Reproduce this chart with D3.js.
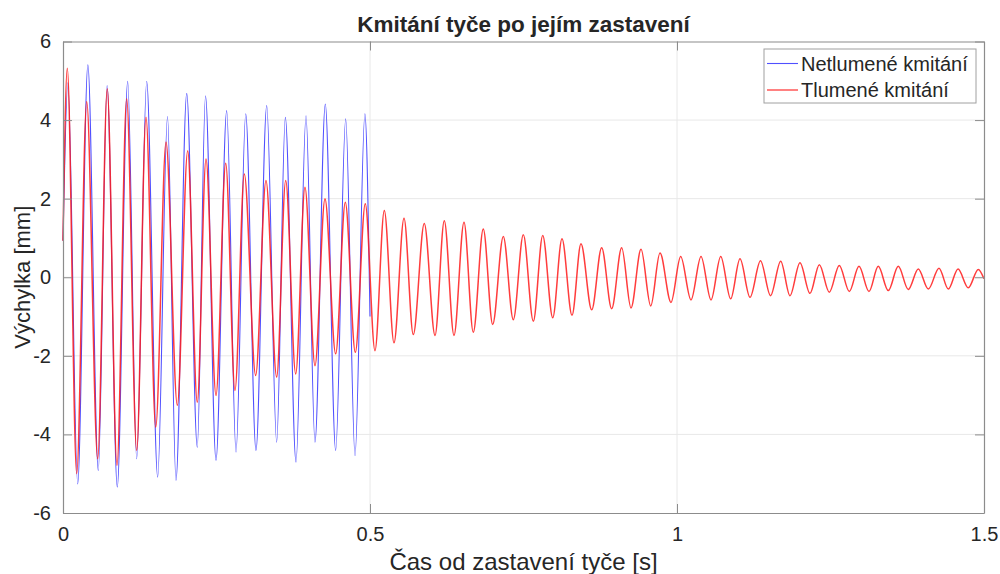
<!DOCTYPE html>
<html>
<head>
<meta charset="utf-8">
<script src="https://cdn.jsdelivr.net/npm/d3@7"></script>
<style>
  html, body { margin: 0; padding: 0; background: #fff; }
  svg { display: block; }
  text { font-family: "Liberation Sans", Arial, Helvetica, sans-serif; fill: #262626; }
</style>
</head>
<body>
<svg id="chart" width="1000" height="574"></svg>
<script>
// Oscillation of a bar after it stops: undamped vs damped response.
// Each series is stored as its turning points (time [s], deflection [mm]).

const timeNetlumene = [0, 0.0080, 0.0239, 0.0405, 0.0575, 0.0718, 0.0884, 0.1054, 0.1200, 0.1363,
  0.1542, 0.1702, 0.1840, 0.2015, 0.2187, 0.2321, 0.2492, 0.2666, 0.2818, 0.2976,
  0.3143, 0.3318, 0.3480, 0.3621, 0.3795, 0.3958, 0.4104, 0.4272, 0.4441, 0.4604,
  0.4756, 0.4917, 0.5000];
const valNetlumene = [0.93, 4.95, -5.26, 5.41, -4.92, 4.88, -5.34, 4.99, -4.62, 4.99,
  -5.09, 4.09, -5.17, 4.68, -4.33, 4.62, -4.66, 4.24, -4.45, 4.16,
  -4.41, 4.37, -4.20, 4.07, -4.71, 4.11, -4.20, 4.41, -4.41, 4.03,
  -4.54, 4.16, -1.00];

const timeTlumene = [0, 0.0070, 0.0223, 0.0386, 0.0565, 0.0721, 0.0879, 0.1037, 0.1200, 0.1352,
  0.1510, 0.1678, 0.1862, 0.2031, 0.2187, 0.2329, 0.2492, 0.2650, 0.2801, 0.2953,
  0.3138, 0.3306, 0.3480, 0.3627, 0.3790, 0.3941, 0.4104, 0.4267, 0.4441, 0.4598,
  0.4761, 0.4923, 0.5081, 0.5233, 0.5391, 0.5554, 0.5705, 0.5884, 0.6059, 0.6210,
  0.6368, 0.6531, 0.6682, 0.6845, 0.6998, 0.7171, 0.7334, 0.7497, 0.7660, 0.7813,
  0.7976, 0.8127, 0.8290, 0.8436, 0.8611, 0.8773, 0.8936, 0.9099, 0.9251, 0.9414,
  0.9572, 0.9723, 0.9902, 1.0060, 1.0228, 1.0391, 1.0554, 1.0712, 1.0874, 1.1026,
  1.1189, 1.1360, 1.1523, 1.1689, 1.1840, 1.2003, 1.2166, 1.2318, 1.2480, 1.2643,
  1.2806, 1.2964, 1.3127, 1.3278, 1.3441, 1.3604, 1.3767, 1.3930, 1.4093, 1.4267,
  1.4419, 1.4577, 1.4744, 1.4907, 1.5000];
const valTlumene = [0.93, 5.32, -5.00, 4.47, -4.62, 4.80, -4.79, 4.54, -4.41, 4.07,
  -3.82, 3.44, -3.26, 3.22, -3.18, 3.01, -3.01, 2.90, -2.88, 2.63,
  -2.50, 2.46, -2.54, 2.46, -2.46, 2.29, -2.25, 2.00, -1.95, 1.91,
  -1.91, 1.87, -1.87, 1.70, -1.67, 1.50, -1.46, 1.37, -1.48, 1.44,
  -1.48, 1.40, -1.40, 1.23, -1.20, 1.04, -1.08, 1.08, -1.12, 1.06,
  -1.03, 0.98, -0.97, 0.85, -0.83, 0.75, -0.80, 0.75, -0.78, 0.71,
  -0.73, 0.62, -0.64, 0.53, -0.58, 0.53, -0.58, 0.53, -0.55, 0.47,
  -0.51, 0.42, -0.47, 0.41, -0.47, 0.37, -0.41, 0.32, -0.38, 0.30,
  -0.36, 0.28, -0.36, 0.28, -0.34, 0.28, -0.31, 0.21, -0.30, 0.23,
  -0.30, 0.21, -0.27, 0.20, -0.04];

const xTicks = [0, 0.5, 1, 1.5];
const xTickLabels = ["0", "0.5", "1", "1.5"];
const yTicks = [-6, -4, -2, 0, 2, 4, 6];
const yTickLabels = ["-6", "-4", "-2", "0", "2", "4", "6"];

const seriesNames = ["Netlumené kmitání", "Tlumené kmitání"];
const seriesColors = ["#5050ff", "#ff1a1a"];

const titleText = "Kmitání tyče po jejím zastavení";
const xLabelText = "Čas od zastavení tyče [s]";
const yLabelText = "Výchylka [mm]";

// ---- layout ----
const plotLeft = 63, plotRight = 984, plotTop = 41.5, plotBottom = 513;
const svg = d3.select("#chart");

const x = d3.scaleLinear().domain([0, 1.5]).range([plotLeft, plotRight]);
const y = d3.scaleLinear().domain([-6, 6]).range([plotBottom, plotTop]);

// grid
const grid = svg.append("g");
grid.selectAll("line.gx").data(xTicks.slice(1, -1)).join("line")
  .attr("x1", d => x(d)).attr("x2", d => x(d))
  .attr("y1", plotTop).attr("y2", plotBottom)
  .attr("stroke", "#e8e8e8").attr("stroke-width", 1);
grid.selectAll("line.gy").data(yTicks.slice(1, -1)).join("line")
  .attr("y1", d => y(d)).attr("y2", d => y(d))
  .attr("x1", plotLeft).attr("x2", plotRight)
  .attr("stroke", "#e8e8e8").attr("stroke-width", 1);

// data lines
const lineFrom = (ts, vs) => d3.line()
  .x((d, i) => x(ts[i]))
  .y(d => y(d))
  .curve(d3.curveMonotoneX)(vs);

svg.append("path")
  .attr("d", lineFrom(timeNetlumene, valNetlumene))
  .attr("fill", "none").attr("stroke", seriesColors[0])
  .attr("stroke-width", 1.1).attr("stroke-linejoin", "round");

svg.append("path")
  .attr("d", lineFrom(timeTlumene, valTlumene))
  .attr("fill", "none").attr("stroke", seriesColors[1])
  .attr("stroke-width", 1.5).attr("stroke-opacity", 0.85).attr("stroke-linejoin", "round");

// axes (box style with inward ticks)
const axisColor = "#8c8c8c";
const tickLen = 9;

const xAxisB = d3.axisBottom(x).tickValues(xTicks).tickFormat((d, i) => xTickLabels[i]).tickSizeInner(-tickLen).tickSizeOuter(0).tickPadding(14);
const xAxisT = d3.axisTop(x).tickValues(xTicks).tickFormat("").tickSizeInner(-tickLen).tickSizeOuter(0);
const yAxisL = d3.axisLeft(y).tickValues(yTicks).tickFormat((d, i) => yTickLabels[i]).tickSizeInner(-tickLen).tickSizeOuter(0).tickPadding(12);
const yAxisR = d3.axisRight(y).tickValues(yTicks).tickFormat("").tickSizeInner(-tickLen).tickSizeOuter(0);

function styleAxis(g) {
  g.select(".domain").attr("stroke", axisColor).attr("stroke-width", 1.2);
  g.selectAll(".tick line").attr("stroke", axisColor).attr("stroke-width", 1);
  g.selectAll(".tick text").attr("fill", "#262626").style("font-size", "20px")
    .style("font-family", "'Liberation Sans', Arial, sans-serif");
}

svg.append("g").attr("transform", `translate(0,${plotBottom})`).call(xAxisB).call(styleAxis);
svg.append("g").attr("transform", `translate(0,${plotTop})`).call(xAxisT).call(styleAxis);
svg.append("g").attr("transform", `translate(${plotLeft},0)`).call(yAxisL).call(styleAxis);
svg.append("g").attr("transform", `translate(${plotRight},0)`).call(yAxisR).call(styleAxis);

// title and axis labels
svg.append("text")
  .attr("x", (plotLeft + plotRight) / 2).attr("y", 32)
  .attr("text-anchor", "middle")
  .style("font-size", "22.5px").style("font-weight", "bold")
  .text(titleText);

svg.append("text")
  .attr("x", (plotLeft + plotRight) / 2).attr("y", 570)
  .attr("text-anchor", "middle")
  .style("font-size", "24px")
  .text(xLabelText);

svg.append("text")
  .attr("transform", `translate(30,${(plotTop + plotBottom) / 2}) rotate(-90)`)
  .attr("text-anchor", "middle")
  .style("font-size", "22px")
  .text(yLabelText);

// legend
const lg = svg.append("g").attr("transform", "translate(764,49)");
lg.append("rect").attr("width", 212).attr("height", 54)
  .attr("fill", "#fff").attr("stroke", "#a0a0a0").attr("stroke-width", 1);
seriesNames.forEach((name, i) => {
  const yy = 14.5 + i * 26.5;
  lg.append("line").attr("x1", 3).attr("x2", 34).attr("y1", yy).attr("y2", yy)
    .attr("stroke", seriesColors[i]).attr("stroke-width", 1.1);
  lg.append("text").attr("x", 37).attr("y", yy + 7)
    .style("font-size", "20px").text(name);
});
</script>
</body>
</html>
